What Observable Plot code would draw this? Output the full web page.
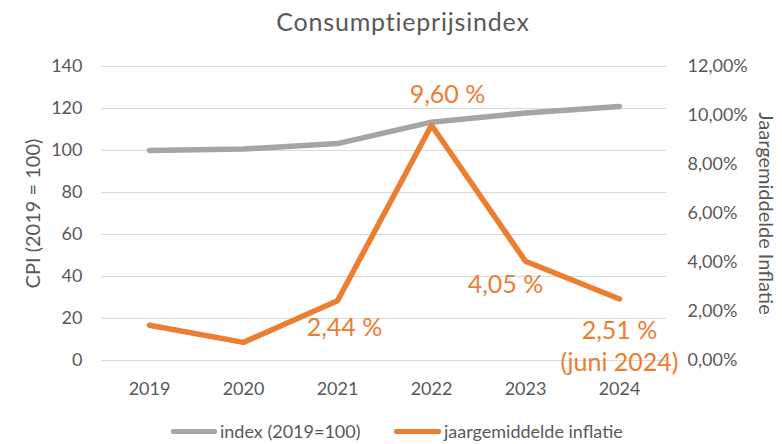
<!DOCTYPE html>
<html><head><meta charset="utf-8">
<script src="https://cdn.jsdelivr.net/npm/d3@7"></script>
<script src="https://cdn.jsdelivr.net/npm/@observablehq/plot@0.6"></script>
<style>
body{margin:0;background:#fff;font-family:Lato,sans-serif;}
#wrap{position:relative;width:782px;height:444px;overflow:hidden;background:#fff}
#title{position:absolute;left:24px;top:0;width:758px;text-align:center;font-size:25px;letter-spacing:0.8px;color:#595959;line-height:42px}
#chart{position:absolute;left:0;top:40px}
#legend{position:absolute;left:0;top:419px;width:782px;height:24px;font-size:18px;color:#595959}
.li{position:absolute;top:0;height:24px;line-height:24px;white-space:nowrap}
.sw{position:absolute;top:10px;height:5px;border-radius:2px}
</style></head>
<body>
<div id="wrap">
  <div id="title">Consumptieprijsindex</div>
  <div id="chart"></div>
  <div id="legend"></div>
</div>
<script>
const years = ["2019", "2020", "2021", "2022", "2023", "2024"];
const cpiIndex = [100, 100.7, 103.3, 113.5, 117.9, 121.0];
const inflation = [1.44, 0.74, 2.44, 9.60, 4.05, 2.51];
const leftTicks = [0, 20, 40, 60, 80, 100, 120, 140];
const rightTicks = [0, 2, 4, 6, 8, 10, 12];
const seriesNames = ["index (2019=100)", "jaargemiddelde inflatie"];
const leftTitle = "CPI (2019 = 100)";
const rightTitle = "Jaargemiddelde Inflatie";

const GREY = "#A5A5A5", ORANGE = "#ED7D31", TXT = "#595959";
const ratio = 140 / 12; // right axis 0–12% spans left axis 0–140
const data = years.map((y, i) => ({year: y, cpi: cpiIndex[i], infl: inflation[i], inflY: inflation[i] * ratio}));
const fmtPct = v => v.toFixed(2).replace(".", ",");
const byYear = y => data.filter(d => d.year === y);

const plot = Plot.plot({
  width: 782,
  height: 380,
  marginLeft: 101,
  marginRight: 116,
  marginTop: 26,
  marginBottom: 60,
  style: {fontFamily: "Lato, sans-serif", color: TXT, background: "transparent"},
  x: {type: "point", domain: years, padding: 0.5},
  y: {domain: [0, 140]},
  marks: [
    Plot.ruleY(leftTicks, {stroke: "#D9D9D9", strokeWidth: 1.2}),
    Plot.axisX({tickSize: 0, tickPadding: 22, fontSize: 18, label: null, fill: TXT}),
    Plot.axisY(leftTicks, {anchor: "left", tickSize: 0, tickPadding: 19, fontSize: 18, label: null, fill: TXT}),
    Plot.axisY(rightTicks.map(t => t * ratio), {anchor: "right", tickSize: 0, tickPadding: 21, fontSize: 18, label: null, fill: TXT,
      tickFormat: v => fmtPct(v / ratio) + "%"}),
    Plot.text([leftTitle], {frameAnchor: "left", textAnchor: "middle", rotate: -90, dx: -68, fontSize: 20, fill: TXT}),
    Plot.text([rightTitle], {frameAnchor: "right", textAnchor: "middle", rotate: 90, dx: 99, fontSize: 20, fill: TXT}),
    Plot.line(data, {x: "year", y: "cpi", stroke: GREY, strokeWidth: 5.5}),
    Plot.line(data, {x: "year", y: "inflY", stroke: ORANGE, strokeWidth: 5.5}),
    Plot.text(byYear("2022"), {x: "year", y: "inflY", text: d => fmtPct(d.infl) + " %", dx: 16, dy: -30, fontSize: 25, fill: ORANGE}),
    Plot.text(byYear("2021"), {x: "year", y: "inflY", text: d => fmtPct(d.infl) + " %", dx: 7, dy: 27, fontSize: 25, fill: ORANGE}),
    Plot.text(byYear("2023"), {x: "year", y: "inflY", text: d => fmtPct(d.infl) + " %", dx: -20, dy: 24, fontSize: 25, fill: ORANGE}),
    Plot.text(byYear("2024"), {x: "year", y: "inflY", text: d => fmtPct(d.infl) + " %\n(juni 2024)", dx: 0, dy: 46, fontSize: 25, lineHeight: 1.28, fill: ORANGE})
  ]
});
document.getElementById("chart").appendChild(plot);

const legend = document.getElementById("legend");
const legendItems = [
  {name: seriesNames[0], color: GREY, x0: 171, w: 46},
  {name: seriesNames[1], color: ORANGE, x0: 394, w: 47}
];
legendItems.forEach(it => {
  const sw = document.createElement("div");
  sw.className = "sw"; sw.style.left = it.x0 + "px"; sw.style.width = it.w + "px"; sw.style.background = it.color;
  legend.appendChild(sw);
  const t = document.createElement("div");
  t.className = "li"; t.style.left = (it.x0 + it.w + 3) + "px"; t.textContent = it.name;
  legend.appendChild(t);
});
</script>
</body></html>
